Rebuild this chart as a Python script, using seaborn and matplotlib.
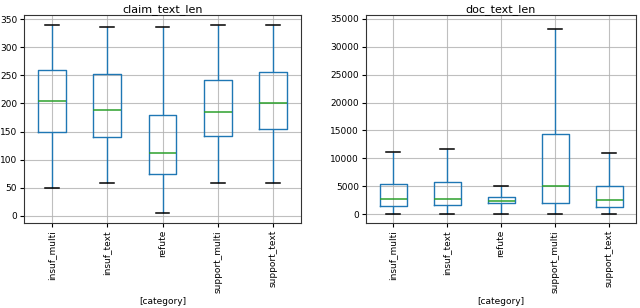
import numpy as np
import pandas as pd
import matplotlib
matplotlib.use("Agg")
import matplotlib.pyplot as plt
import seaborn as sns

categories = ["insuf_multi", "insuf_text", "refute", "support_multi", "support_text"]

# five-number summaries [min, q1, median, q3, max]
claim_min = [50, 59, 4, 58, 58]
claim_q1 = [150, 140, 75, 142, 154]
claim_med = [204, 189, 112, 184, 201]
claim_q3 = [259, 253, 180, 241, 256]
claim_max = [340, 336, 336, 340, 340]

doc_min = [0, 0, 0, 0, 0]
doc_q1 = [1500, 1680, 1910, 2030, 1200]
doc_med = [2630, 2630, 2270, 5080, 2510]
doc_q3 = [5320, 5680, 3050, 14350, 5080]
doc_max = [11130, 11720, 5080, 33250, 10950]


def build(mins, q1s, meds, q3s, maxs):
    rows = []
    for c, a, b, m, d, e in zip(categories, mins, q1s, meds, q3s, maxs):
        for v in (a, b, m, d, e):
            rows.append({"category": c, "value": v})
    return pd.DataFrame(rows)


claim_df = build(claim_min, claim_q1, claim_med, claim_q3, claim_max)
doc_df = build(doc_min, doc_q1, doc_med, doc_q3, doc_max)

fig = plt.figure(figsize=(6.4, 3.08), dpi=100)
ax1 = fig.add_axes([24 / 640, 1 - 223 / 308, 277 / 640, 208 / 308])
ax2 = fig.add_axes([366 / 640, 1 - 223 / 308, 270 / 640, 208 / 308])

blue = "#1f77b4"
props = dict(
    fill=False,
    width=0.5,
    whis=(0, 100),
    showfliers=False,
    linewidth=1.0,
    color=blue,
    boxprops=dict(color=blue, linewidth=1.0),
    whiskerprops=dict(color=blue, linewidth=1.0),
    capprops=dict(color="black", linewidth=1.1),
    medianprops=dict(color="#2ca02c", linewidth=1.1),
)

for ax, df, title, ticks in [
    (ax1, claim_df, "claim_text_len", [0, 50, 100, 150, 200, 250, 300, 350]),
    (ax2, doc_df, "doc_text_len", [0, 5000, 10000, 15000, 20000, 25000, 30000, 35000]),
]:
    sns.boxplot(data=df, x="category", y="value", order=categories, ax=ax, **props)
    ax.set_axisbelow(True)
    ax.grid(True, color="#b0b0b0", linewidth=0.8, alpha=0.8)
    ax.set_title(title, fontsize=8, pad=2)
    ax.set_xlabel("[category]", fontsize=6.5, labelpad=3)
    ax.set_ylabel("")
    ax.set_yticks(ticks)
    ax.tick_params(axis="both", labelsize=6.5, length=3, pad=2)
    ax.tick_params(axis="x", labelrotation=90)
    ax.set_xlim(-0.5, 4.5)
    for s in ax.spines.values():
        s.set_color("#333333")

ax1.set_ylim(-13, 357.7)
ax2.set_ylim(-1613, 35717)

fig.savefig("out.png", dpi=100)
